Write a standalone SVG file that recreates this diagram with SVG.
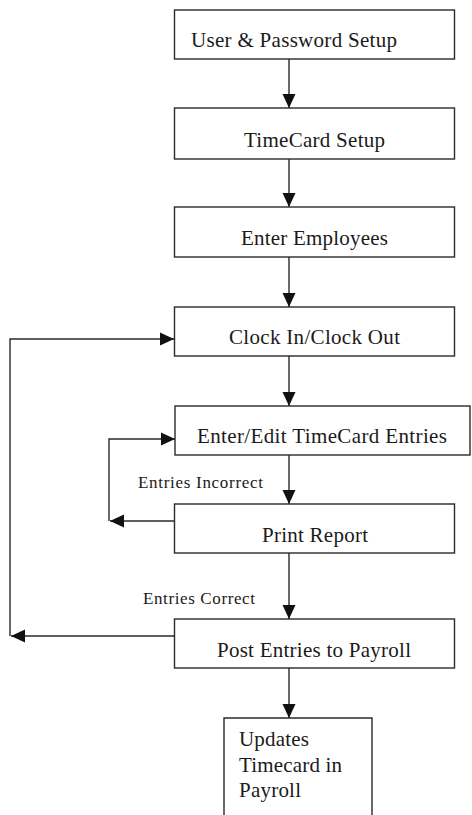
<svg xmlns="http://www.w3.org/2000/svg" width="472" height="815" viewBox="0 0 472 815">
  <style>
    .box { fill: #ffffff; stroke: #2a2a2a; stroke-width: 1.4; }
    .lbl { font-family: "Liberation Serif", "Times New Roman", serif; font-size: 21px; fill: #1a1a1a; }
    .note { font-family: "Liberation Serif", "Times New Roman", serif; font-size: 17px; fill: #1a1a1a; }
    .wire { fill: none; stroke: #2a2a2a; stroke-width: 1.4; }
  </style>
  <defs>
    <marker id="head" viewBox="0 0 14 14" refX="14" refY="7" markerWidth="14" markerHeight="14" markerUnits="userSpaceOnUse" orient="auto">
      <path d="M0,0.5 L14,7 L0,13.5 Z" fill="#111111"/>
    </marker>
  </defs>
  <rect width="472" height="815" fill="#ffffff"/>

  <g id="connectors">
    <line class="wire" x1="289" y1="59" x2="289" y2="108" marker-end="url(#head)"/>
    <line class="wire" x1="289" y1="159" x2="289" y2="207" marker-end="url(#head)"/>
    <line class="wire" x1="289" y1="257" x2="289" y2="307" marker-end="url(#head)"/>
    <line class="wire" x1="289" y1="356" x2="289" y2="406" marker-end="url(#head)"/>
    <line class="wire" x1="289" y1="455" x2="289" y2="504" marker-end="url(#head)"/>
    <line class="wire" x1="289" y1="553" x2="289" y2="619" marker-end="url(#head)"/>
    <line class="wire" x1="289" y1="668" x2="289" y2="718" marker-end="url(#head)"/>
    <!-- inner loop: Print Report back to Enter/Edit -->
    <line class="wire" x1="175" y1="521" x2="110" y2="521" marker-end="url(#head)"/>
    <polyline class="wire" points="109,521 109,439 175,439" marker-end="url(#head)"/>
    <!-- outer loop: Post Entries back to Clock In/Clock Out -->
    <line class="wire" x1="174" y1="636" x2="11" y2="636" marker-end="url(#head)"/>
    <polyline class="wire" points="10,636 10,339 174,339" marker-end="url(#head)"/>
  </g>

  <g id="user-password-setup">
    <rect class="box" x="174.5" y="10" width="280" height="49"/>
    <text class="lbl" x="191" y="47" textLength="206" lengthAdjust="spacing">User &amp; Password Setup</text>
  </g>
  <g id="timecard-setup">
    <rect class="box" x="174.5" y="108" width="280" height="51"/>
    <text class="lbl" x="244" y="147" textLength="141" lengthAdjust="spacing">TimeCard Setup</text>
  </g>
  <g id="enter-employees">
    <rect class="box" x="174.5" y="207" width="280" height="50"/>
    <text class="lbl" x="241" y="245" textLength="147" lengthAdjust="spacing">Enter Employees</text>
  </g>
  <g id="clock-in-out">
    <rect class="box" x="174.5" y="307" width="280" height="49"/>
    <text class="lbl" x="229" y="344" textLength="171" lengthAdjust="spacing">Clock In/Clock Out</text>
  </g>
  <g id="enter-edit-entries">
    <rect class="box" x="175" y="406" width="295" height="49"/>
    <text class="lbl" x="197" y="443" textLength="250" lengthAdjust="spacing">Enter/Edit TimeCard Entries</text>
  </g>
  <g id="print-report">
    <rect class="box" x="174.5" y="504" width="280" height="49"/>
    <text class="lbl" x="262" y="542" textLength="106" lengthAdjust="spacing">Print Report</text>
  </g>
  <g id="post-entries">
    <rect class="box" x="174.5" y="619" width="280" height="49"/>
    <text class="lbl" x="217" y="657" textLength="194" lengthAdjust="spacing">Post Entries to Payroll</text>
  </g>
  <g id="updates-timecard">
    <path class="box" d="M224,816 V718 H372 V816"/>
    <text class="lbl" x="239" y="746" textLength="70" lengthAdjust="spacing">Updates</text>
    <text class="lbl" x="239" y="772" textLength="103" lengthAdjust="spacing">Timecard in</text>
    <text class="lbl" x="239" y="797" textLength="62" lengthAdjust="spacing">Payroll</text>
  </g>

  <g id="edge-labels">
    <text class="note" x="138" y="488" textLength="125" lengthAdjust="spacing">Entries  Incorrect</text>
    <text class="note" x="143" y="604" textLength="112" lengthAdjust="spacing">Entries Correct</text>
  </g>
</svg>
